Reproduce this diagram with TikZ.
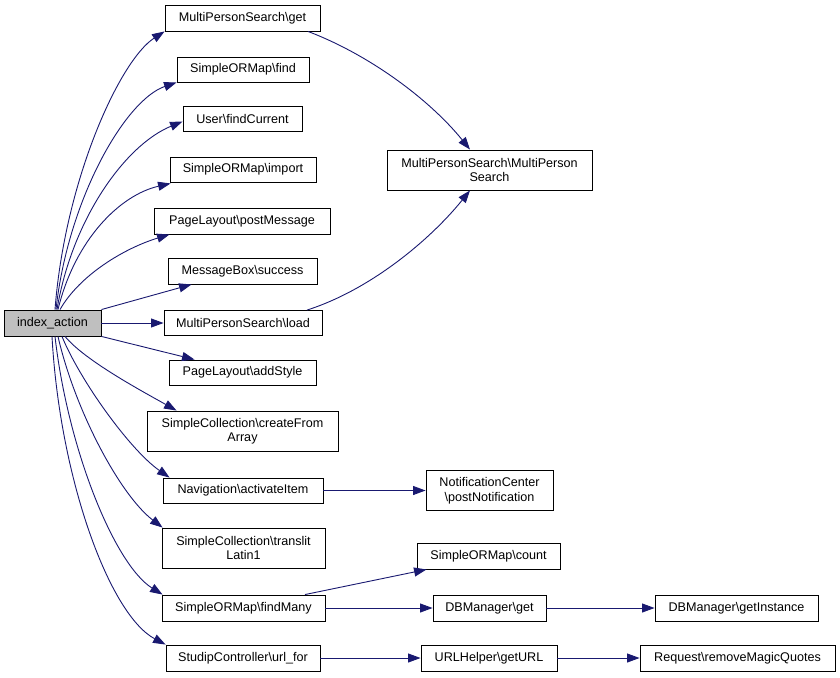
\documentclass[tikz,border=0pt]{standalone}
\usepackage{fontspec}
\setmainfont{Liberation Sans}
\usetikzlibrary{arrows.meta}
\definecolor{edgeblue}{RGB}{25,25,112}
\definecolor{startgray}{RGB}{191,191,191}
\tikzset{
  fn/.style={draw=black, line width=0.9pt, fill=white, rectangle, inner sep=0pt,
    align=center, font=\fontsize{12.6}{14.5}\selectfont, anchor=center},
  call/.style={draw=edgeblue, line width=0.9pt, -{Triangle[length=12.5pt,width=9pt]}},
}
\begin{document}
\begin{tikzpicture}[x=1pt,y=-1pt]
\useasboundingbox (0,0) rectangle (840,677);
% nodes
\node[fn, fill=startgray, minimum width=97, minimum height=26] (ia) at (52.5,323) {index\_action};
\node[fn, minimum width=155, minimum height=26] (mget) at (242.5,18) {MultiPersonSearch\textbackslash get};
\node[fn, minimum width=132, minimum height=25] (find) at (243,69.5) {SimpleORMap\textbackslash find};
\node[fn, minimum width=119, minimum height=25] (fc) at (242.5,118.5) {User\textbackslash findCurrent};
\node[fn, minimum width=146, minimum height=25] (imp) at (243,169.5) {SimpleORMap\textbackslash import};
\node[fn, minimum width=176, minimum height=26] (pm) at (242,221) {PageLayout\textbackslash postMessage};
\node[fn, minimum width=149, minimum height=26] (succ) at (242.5,271) {MessageBox\textbackslash success};
\node[fn, minimum width=158, minimum height=25] (load) at (243,323) {MultiPersonSearch\textbackslash load};
\node[fn, minimum width=147, minimum height=25] (add) at (242.5,372.5) {PageLayout\textbackslash addStyle};
\node[fn, minimum width=191, minimum height=40] (cfa) at (242.5,431) {SimpleCollection\textbackslash createFrom\\Array};
\node[fn, minimum width=160, minimum height=25] (act) at (243,490.5) {Navigation\textbackslash activateItem};
\node[fn, minimum width=163, minimum height=40] (tl) at (243.5,548) {SimpleCollection\textbackslash translit\\Latin1};
\node[fn, minimum width=163, minimum height=26] (fm) at (243.5,608) {SimpleORMap\textbackslash findMany};
\node[fn, minimum width=154, minimum height=26] (url) at (243,658) {StudipController\textbackslash url\_for};
\node[fn, minimum width=205, minimum height=40] (mps) at (489.5,170) {MultiPersonSearch\textbackslash MultiPerson\\Search};
\node[fn, minimum width=127, minimum height=40] (pn) at (489.5,490.5) {NotificationCenter\\\textbackslash postNotification};
\node[fn, minimum width=143, minimum height=26] (cnt) at (488.5,556) {SimpleORMap\textbackslash count};
\node[fn, minimum width=113, minimum height=26] (dbg) at (489.5,608) {DBManager\textbackslash get};
\node[fn, minimum width=136, minimum height=26] (urlh) at (489,658) {URLHelper\textbackslash getURL};
\node[fn, minimum width=163, minimum height=26] (dbi) at (736.5,608) {DBManager\textbackslash getInstance};
\node[fn, minimum width=195, minimum height=26] (rmq) at (737.5,658.5) {Request\textbackslash removeMagicQuotes};
% edges from index_action (top fan)
\draw[call] ([xshift=2.5pt]ia.north) .. controls +(10,-130) and (120,60) .. (mget.south west);
\draw[call] ([xshift=3.5pt]ia.north) .. controls +(12,-110) and (125,100) .. (find.south west);
\draw[call] ([xshift=4.5pt]ia.north) .. controls +(15,-90) and (125,145) .. ([yshift=-3pt]fc.west);
\draw[call] ([xshift=5.5pt]ia.north) .. controls +(17,-70) and (120,195) .. ([xshift=1pt,yshift=-1pt]imp.south west);
\draw[call] ([xshift=7.5pt]ia.north) .. controls +(20,-35) and (125,248) .. ([xshift=16pt]pm.south west);
\draw[call] (ia.north east) -- ([xshift=24pt]succ.south west);
\draw[call] (ia.east) -- (load.west);
\draw[call] (ia.south east) -- ([xshift=26pt]add.north west);
% bottom fan
\draw[call] ([xshift=12.5pt]ia.south) .. controls +(20,24) and (140,390) .. ([xshift=30pt]cfa.north west);
\draw[call] ([xshift=9.5pt]ia.south) .. controls +(18,44) and (130,450) .. ([xshift=7pt]act.north west);
\draw[call] ([xshift=5.5pt]ia.south) .. controls +(17,74) and (120,495) .. ([xshift=1pt]tl.north west);
\draw[call] ([xshift=2.5pt]ia.south) .. controls +(13,114) and (115,565) .. ([xshift=1pt]fm.north west);
\draw[call] ([xshift=-0.5pt]ia.south) .. controls +(8,144) and (110,615) .. (url.north west);
% right side
\draw[call] ([xshift=65.5pt]mget.south) .. controls (370,55) and (430,100) .. ([xshift=-19.5pt]mps.north);
\draw[call] ([xshift=64pt]load.north) .. controls (370,290) and (430,240) .. ([xshift=-19.5pt]mps.south);
\draw[call] (act.east) -- (pn.west |- act.east);
\draw[call] ([xshift=61.5pt]fm.north) -- ([xshift=10pt]cnt.south west);
\draw[call] (fm.east) -- (dbg.west);
\draw[call] (dbg.east) -- (dbi.west);
\draw[call] (url.east) -- (urlh.west);
\draw[call] (urlh.east) -- (rmq.west |- urlh.east);
\end{tikzpicture}
\end{document}
